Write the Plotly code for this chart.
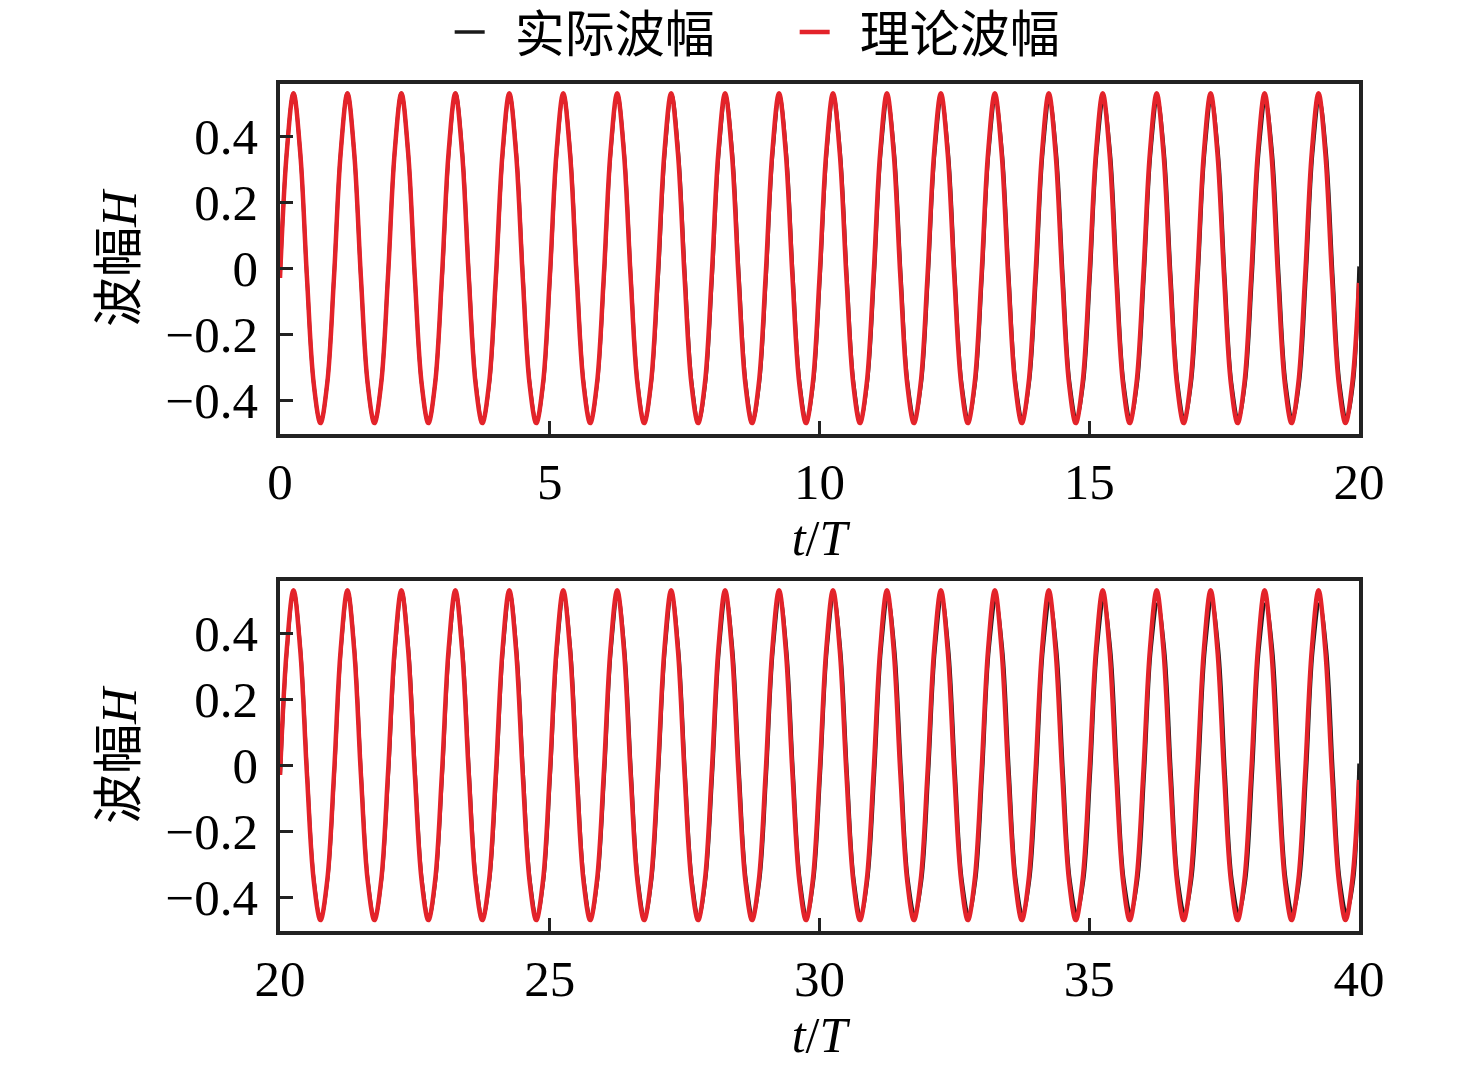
import plotly.graph_objects as go

# ---------------- data ----------------
# knot phases within one wave period (t/T offsets) and the theoretical wave
# value at each knot (read from one period of the red curve)
phase_knots = [0.0, 0.125, 0.25, 0.375, 0.5, 0.625, 0.75, 0.875]
theory_cycle_H = [-0.03, 0.35, 0.53, 0.35, -0.03, -0.35, -0.47, -0.35]
theory_end_H = [-0.045, -0.045]   # red curve value at t=20 and t=40

# per-period readings of the measured (black) wave: crest, trough, time lag
actual_crest = [0.53, 0.53, 0.53, 0.53, 0.525, 0.525, 0.525, 0.525, 0.52, 0.52,
                0.52, 0.51, 0.51, 0.51, 0.51, 0.505, 0.51, 0.51, 0.505, 0.51,
                0.525, 0.525, 0.525, 0.52, 0.52, 0.515, 0.515, 0.515, 0.51, 0.51,
                0.51, 0.505, 0.505, 0.495, 0.495, 0.495, 0.49, 0.495, 0.49, 0.49]
actual_trough = [-0.47, -0.47, -0.47, -0.465, -0.465, -0.465, -0.465, -0.465, -0.465, -0.46,
                 -0.46, -0.455, -0.455, -0.455, -0.455, -0.455, -0.455, -0.455, -0.455, -0.455,
                 -0.465, -0.465, -0.465, -0.465, -0.46, -0.46, -0.46, -0.46, -0.455, -0.455,
                 -0.455, -0.45, -0.45, -0.45, -0.445, -0.445, -0.445, -0.445, -0.445, -0.445]
actual_lag = [0.0, 0.0, 0.0, 0.005, 0.005, 0.005, 0.005, 0.01, 0.01, 0.01,
              0.01, 0.012, 0.012, 0.012, 0.015, 0.015, 0.015, 0.015, 0.018, 0.018,
              0.005, 0.005, 0.008, 0.008, 0.01, 0.01, 0.012, 0.012, 0.015, 0.015,
              0.015, 0.018, 0.018, 0.018, 0.02, 0.02, 0.02, 0.022, 0.022, 0.022]
actual_end_H = [0.005, 0.005]  # black curve value at t=20 and t=40

period_starts = list(range(0, 40))
panel_ranges = [[0, 20], [20, 40]]
x_ticks = [[0, 5, 10, 15, 20], [20, 25, 30, 35, 40]]
y_ticks = [-0.4, -0.2, 0, 0.2, 0.4]
y_tick_text = ["\u22120.4", "\u22120.2", "0", "0.2", "0.4"]
y_range = [-0.503, 0.558]

legend_names = ["  实际波幅", "  理论波幅"]
colors = ["#1a1a1a", "#e3232a"]


def build_knots(p0, p1, theory):
    xs, ys = [], []
    for n in period_starts[p0:p1]:
        for k, ph in enumerate(phase_knots):
            if theory:
                xs.append(n + ph)
                ys.append(theory_cycle_H[k])
            else:
                vals = list(theory_cycle_H)
                vals[2] = actual_crest[n]
                vals[6] = actual_trough[n]
                xs.append(n + ph + actual_lag[n])
                ys.append(vals[k])
    return xs, ys


fig = go.Figure()
font_fam = "Liberation Serif, Times New Roman, Noto Sans CJK SC, serif"

for pi in range(2):
    p0, p1 = pi * 20, pi * 20 + 20
    xa = "x" if pi == 0 else "x2"
    ya = "y" if pi == 0 else "y2"
    ax, ay = build_knots(p0, p1, False)
    ax.append(panel_ranges[pi][1])
    ay.append(actual_end_H[pi])
    fig.add_trace(go.Scatter(x=ax, y=ay, mode="lines", name=legend_names[0],
                             line=dict(color=colors[0], width=3.5, shape="spline"),
                             xaxis=xa, yaxis=ya, showlegend=(pi == 0)))
    tx, ty = build_knots(p0, p1, True)
    tx.append(panel_ranges[pi][1])
    ty.append(theory_end_H[pi])
    fig.add_trace(go.Scatter(x=tx, y=ty, mode="lines", name=legend_names[1],
                             line=dict(color=colors[1], width=4.5, shape="spline"),
                             xaxis=xa, yaxis=ya, showlegend=(pi == 0)))

M_T, M_B = 76, 150
H = 1073.0 - M_T - M_B
axis_common = dict(showline=True, linecolor="#222", linewidth=3.5, mirror=True,
                   ticks="inside", ticklen=13, tickwidth=3, tickcolor="#222",
                   showgrid=False, zeroline=False, automargin=False,
                   tickfont=dict(family=font_fam, size=51, color="black"))
xt = dict(text="<i>t</i>/<i>T</i>", font=dict(family=font_fam, size=50, color="black"), standoff=0)
yt = dict(text="波幅<i>H</i>", font=dict(family=font_fam, size=50, color="black"), standoff=14)

fig.update_layout(
    width=1476, height=1073,
    margin=dict(l=272, r=125, t=M_T, b=M_B, autoexpand=False),
    paper_bgcolor="white", plot_bgcolor="white",
    font=dict(family=font_fam, color="black"),
    xaxis=dict(domain=[0, 1], anchor="y", range=panel_ranges[0], tickvals=x_ticks[0],
               title=xt, **axis_common),
    yaxis=dict(domain=[1 - 350 / H, 1], anchor="x", range=y_range, tickvals=y_ticks,
               ticktext=y_tick_text, title=yt, ticklabelstandoff=8, **axis_common),
    xaxis2=dict(domain=[0, 1], anchor="y2", range=panel_ranges[1], tickvals=x_ticks[1],
                title=xt, **axis_common),
    yaxis2=dict(domain=[0, 350 / H], anchor="x2", range=y_range, tickvals=y_ticks,
                ticktext=y_tick_text, title=yt, ticklabelstandoff=8, **axis_common),
    legend=dict(orientation="h", x=0.477, xanchor="center", y=1 + 52 / H, yanchor="middle",
                font=dict(family=font_fam, size=50, color="black"),
                entrywidth=300, bgcolor="rgba(0,0,0,0)"),
)

fig.write_html("out.html")
